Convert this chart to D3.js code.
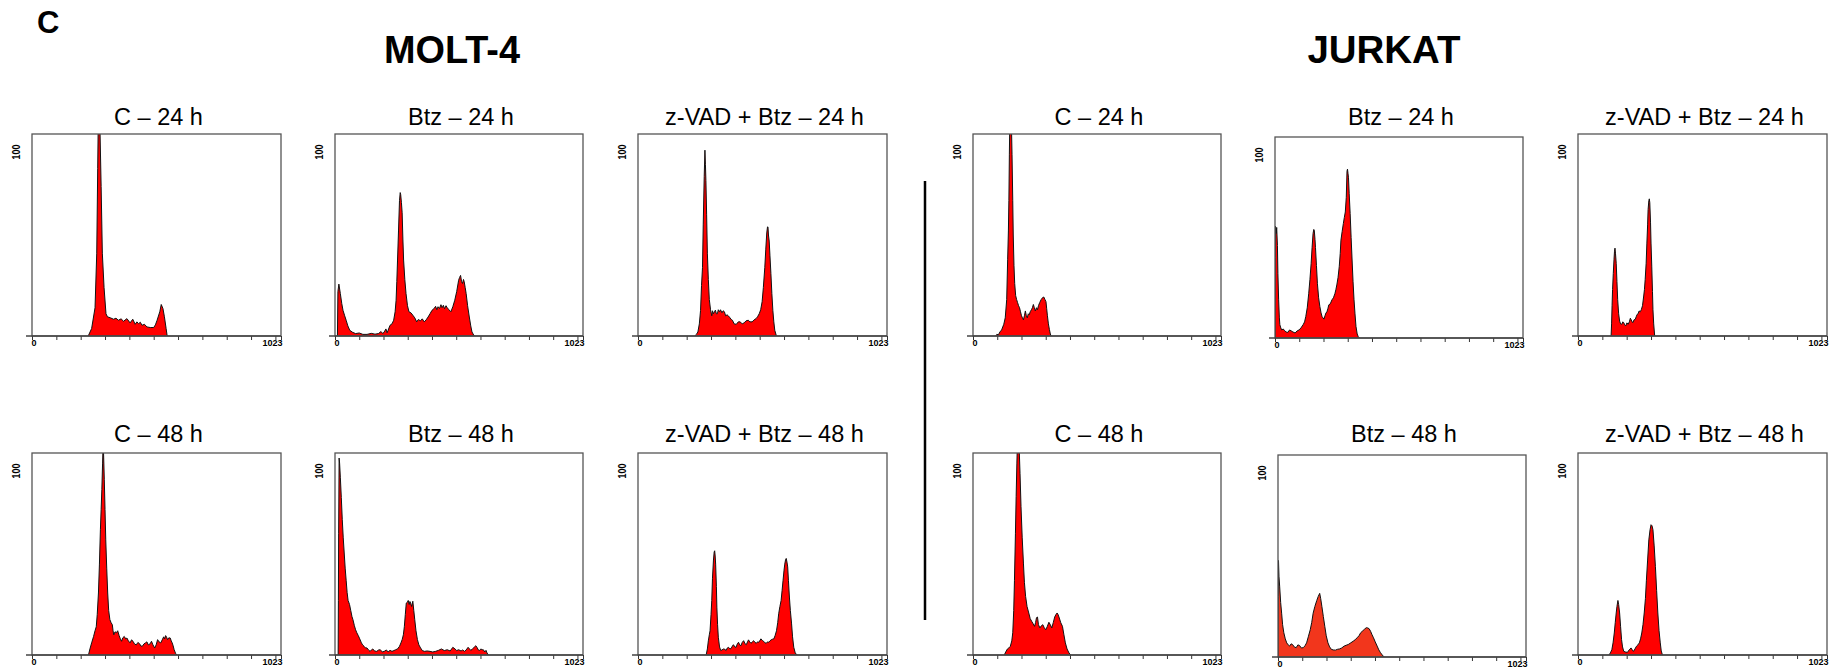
<!DOCTYPE html>
<html>
<head>
<meta charset="utf-8">
<script src="https://cdn.jsdelivr.net/npm/d3@7"></script>
<style>
  body { margin: 0; background: #fff; }
  svg { display: block; font-family: 'Liberation Sans', Arial, sans-serif; }
</style>
</head>
<body>
<svg id="chart"></svg>
<script>
const W = 1829
const H = 668

// histogram values: [DNA channel, cell count]
const moltC24 = [[231,0],[245,3.7],[259,14],[266,41],[270,83],[272,104],[276,112],[279,104],[284,74],[289,41],[296,24],[304,11],[310,9.5],[322,9],[335,8.3],[345,8.8],[355,7.8],[366,8.5],[376,7.3],[390,8.6],[403,6.5],[414,8.3],[424,5.8],[431,7],[438,6.1],[445,6.8],[452,5.3],[462,5.8],[472,4.5],[486,4.2],[500,4.2],[507,5.5],[514,7.8],[525,12],[531,15.6],[538,13.6],[544,9.5],[551,3.7],[555,0.3],[558,0]]
const moltBtz24 = [[10,0],[12,22],[16,25.7],[22,21],[28,16],[33,12.7],[40,10],[46,7.8],[53,5],[61,2.8],[73,1.8],[85,1.2],[100,1.5],[115,0.8],[132,0.8],[150,1.3],[165,0.9],[179,1.2],[190,2.2],[197,1.2],[203,2],[210,3.5],[215,1.6],[219,2.8],[227,5.3],[235,6],[242,7.8],[248,12],[252,17.7],[255,27],[258,37.6],[262,52],[266,67],[269,71],[271,70],[274,66],[277,61],[280,48],[283,37.6],[288,28],[293,21],[299,15],[305,12],[313,11.5],[321,10.3],[329,9],[337,7],[344,8.2],[352,7.5],[360,8.5],[368,7],[376,8],[384,9.4],[392,11],[400,12.7],[408,13.5],[415,14.7],[420,13],[425,14.5],[431,13.6],[437,15.5],[442,14],[447,15.2],[452,13.5],[458,15],[463,14],[470,13],[478,12],[486,14.5],[494,17.7],[502,22],[510,27.6],[514,29],[518,30],[522,27],[526,26],[530,28],[533,26.8],[537,24],[541,21],[547,15],[554,9.4],[560,5],[565,2],[572,0.5],[576,0]]
const moltZvad24 = [[233,0],[240,0.8],[246,2],[252,6],[257,12.7],[261,25],[265,34],[268,55],[272,79],[275,92],[277,85],[279,77],[282,60],[285,41],[289,28],[293,18],[298,13],[303,10],[306,12.5],[310,11],[314,12],[318,12.8],[322,11],[326,11],[330,13],[335,12],[339,13],[345,11.5],[350,12.5],[355,12],[360,10],[366,10.5],[371,10],[378,9],[383,8.2],[388,7.8],[395,6],[404,5.8],[412,7],[420,7],[428,6],[436,6.5],[444,7.5],[453,7.8],[460,7],[469,7],[477,8],[485,8.6],[491,9.5],[498,11],[504,13],[510,17],[515,24],[521,34],[525,43],[529,51],[532,54],[534,54],[536,50],[539,47],[542,40],[546,31],[550,21],[554,12.7],[558,7],[562,2.8],[568,0.3],[570,0]]
const jurC24 = [[94,0],[98,0.8],[105,0.6],[111,2],[118,3],[127,5.8],[133,9],[139,18],[143,38],[146,52],[148,67],[150,90],[152,108],[158,108],[161,90],[164,67],[166,50],[169,35],[172,26],[176,20],[180,18],[184,16.5],[188,15],[192,14],[196,12],[200,10],[204,9],[208,8],[212,10],[216,12.4],[220,10],[224,9],[228,11],[232,10.5],[236,12],[241,13],[245,14],[249,15.6],[253,14],[257,12.4],[262,14],[266,13],[270,15],[275,16.5],[281,18],[287,19],[292,19.3],[297,18],[301,17],[304,13.5],[307,10],[311,6],[315,3.3],[319,1],[322,0]]
const jurBtz24 = [[0,0],[1,40],[2,55.6],[5,52],[7,55],[10,46],[12,32],[15,19],[18,10],[20,6.6],[24,5],[28,4],[34,4.5],[40,3.6],[46,3],[53,2.8],[60,4],[66,3.6],[74,3],[83,2.5],[91,3.5],[99,4],[107,5],[116,6.6],[122,8],[127,10.7],[133,15],[139,22],[144,29],[149,37],[153,45],[157,52],[160,54],[162,53.6],[165,49],[167,45],[171,36],[175,27],[180,20],[185,15.7],[190,12.5],[194,10.7],[198,10],[202,9.4],[206,11],[210,12.4],[214,13],[218,14.5],[222,16.5],[228,17],[235,19],[241,20],[247,22],[251,24],[255,26.4],[260,30],[265,35.5],[269,42],[272,48.7],[277,53],[282,57],[286,60],[290,62.7],[294,70],[297,83],[299,84],[301,82],[303,80],[306,72],[310,62],[314,50],[318,38.8],[322,28],[326,19],[330,12],[334,5.8],[339,2],[343,0.8],[348,0]]
const jurZvad24 = [[136,0],[138,6],[140,15],[142,23],[145,31],[148,38],[150,42],[152,43.5],[154,41],[157,36],[160,27],[163,18],[167,11],[171,7.4],[175,6],[180,5.8],[184,7],[188,6.6],[192,5.5],[196,5],[201,6.5],[206,5.8],[211,7],[215,8.8],[218,8.2],[222,7],[226,6.6],[230,8],[235,8.2],[239,9.5],[243,10.7],[247,11],[251,12.4],[256,12],[260,13],[265,15],[270,19.8],[273,23],[276,28],[280,36],[283,46],[286,55],[288,62.6],[291,67],[293,67.9],[295,66],[298,56],[300,46],[303,34.6],[306,22],[308,13],[311,6],[315,0]]
const moltC48 = [[232,0],[238,3],[245,6],[253,9.2],[259,12],[264,14],[268,20],[273,30.7],[277,45],[281,62],[284,72],[287,82],[290,95],[292,104],[294,100],[297,87],[300,72],[303,57],[307,43],[311,30.7],[315,22],[320,17.5],[325,16],[330,15],[333,12],[336,10],[341,11.5],[347,11],[352,12],[358,9.6],[363,8],[368,6.8],[373,8.5],[379,9.2],[385,8],[390,8.4],[396,7],[403,6],[409,7.5],[415,6.8],[421,5.5],[428,5],[435,6.2],[442,5.6],[447,4.5],[453,4.3],[460,5.5],[466,6],[472,6.5],[478,5],[485,5.5],[491,6.8],[497,5],[504,3.5],[510,5],[516,7.6],[522,6.5],[529,6],[535,7.5],[541,9],[545,8],[549,9.6],[553,8.8],[557,7.6],[562,8.5],[568,8.4],[572,7],[576,6],[580,4.5],[584,2.6],[590,0.8],[595,0]]
const moltBtz48 = [[13,0],[14,27],[15,60],[17,97.5],[19,95],[22,88],[26,78],[30,67],[34,58],[38,50.5],[42,43],[46,37],[50,31],[54,27],[60,25],[65,22],[70,19],[74,17.5],[80,14.5],[85,12.5],[90,11],[96,9.6],[102,8],[109,6],[114,5],[120,4.3],[126,3.5],[132,3.5],[138,2.5],[145,1.8],[150,2.5],[156,3],[163,2],[172,1.8],[180,2.5],[187,2.6],[195,1.5],[203,1.8],[212,2.5],[219,1.5],[227,2.3],[235,1.8],[243,2.2],[250,2.6],[258,3],[266,4.3],[272,6],[277,7.6],[282,10],[286,14],[290,20],[294,25.7],[298,26],[302,27],[306,25],[309,26.5],[312,25.7],[316,24],[321,26.6],[325,22],[329,17.5],[334,12],[340,7.6],[346,5],[353,3.5],[360,2.2],[369,1.8],[380,2],[392,1.8],[403,1.5],[415,1.8],[427,2.3],[439,3],[451,2.2],[463,2.6],[475,2],[486,3.8],[495,3],[502,2.2],[510,2.6],[520,2],[527,2.5],[534,1.8],[541,2.5],[549,3.8],[555,3],[560,2.3],[567,3],[574,3.8],[581,4.6],[587,3.5],[591,2.5],[596,2.3],[602,3],[607,2.6],[612,2.6],[618,1.5],[623,2.3],[627,1],[633,0]]
const moltZvad48 = [[280,0],[285,3],[289,7],[293,10],[296,12],[300,20],[303,27],[306,38],[310,47],[313,51],[315,51.6],[317,49],[319,45],[322,34],[324,23.7],[327,15],[330,8.8],[335,4],[340,2.2],[345,2.5],[351,3],[357,2.8],[362,2.2],[367,3.5],[372,3.8],[378,3],[383,3.3],[388,4.5],[392,5.1],[398,4],[403,3.8],[408,5.5],[413,6.3],[418,5],[423,4.6],[428,6.2],[434,7.1],[440,5.5],[445,5.1],[450,6.5],[454,7.5],[459,6.5],[464,5.8],[470,6.5],[475,7.1],[480,6.3],[486,5.8],[491,6.5],[496,6.3],[500,7],[505,8],[511,7.2],[516,6.8],[522,6],[527,5.8],[532,6.5],[537,6.3],[542,7],[547,7.5],[552,7.8],[558,8],[563,9.5],[569,12],[574,16],[578,20.4],[583,24],[588,27],[592,32],[596,37],[600,42],[603,45],[606,47],[609,47.8],[612,46],[615,43.6],[618,37],[622,28.7],[626,22],[631,15.4],[635,9],[640,3.8],[646,1],[654,0]]
const jurC48 = [[129,0],[135,1.5],[142,3],[148,3.5],[154,4.3],[160,7],[164,11],[168,22],[171,37],[175,60],[178,78.5],[181,95],[183,104],[190,104],[194,90],[198,73.6],[203,58],[208,45.5],[212,36],[217,29],[223,24],[230,20.8],[236,18],[242,16.7],[248,15.5],[254,14.2],[258,16],[262,18.5],[266,18.8],[270,15],[276,13.4],[282,14.5],[288,15],[294,13.5],[300,12.5],[306,14],[313,16.2],[319,15],[325,13.4],[331,16],[337,18.8],[342,20],[347,20.8],[351,20],[356,18.3],[362,16],[369,14.2],[375,10],[381,6],[388,3],[396,1],[403,0]]
const jurBtz48 = [[0,0],[1,30],[2,47.8],[4,40],[7,34.7],[11,27],[15,21.7],[19,16],[24,12],[30,9],[36,7],[42,6],[48,5.4],[54,6.5],[60,6.2],[67,5],[75,4.6],[82,6],[89,5.7],[96,4.5],[104,4.6],[111,5.5],[118,7],[125,10],[133,13.5],[139,17],[145,21.7],[152,25],[160,28],[166,30],[172,31.5],[176,29],[181,25],[187,20],[193,15.2],[199,10.5],[206,7],[213,5],[220,3.8],[228,3.5],[237,3.4],[245,3.8],[254,4],[263,4.5],[273,5.4],[281,5.8],[290,6.2],[300,7],[310,7.8],[318,8.5],[326,9.5],[334,10.5],[341,12],[350,13],[358,13.9],[364,14.5],[370,14.4],[376,14],[382,12.7],[388,11],[394,9.5],[401,7.5],[409,5.4],[416,3.5],[423,2.1],[430,1],[438,0]]
const jurZvad48 = [[127,0],[133,1],[139,2.6],[144,6],[149,10.9],[153,16],[157,20.8],[160,24],[164,27],[167,25],[171,20.8],[175,14],[179,7.6],[183,4],[188,1.8],[195,1.5],[203,1.3],[210,2.5],[218,3.5],[223,2.5],[228,1.8],[234,3],[240,4.3],[246,5],[252,6],[257,8],[262,10.9],[267,15],[272,20.8],[277,28],[281,37],[286,47],[291,57],[296,62],[300,64.5],[304,64],[308,62],[313,54],[318,43.9],[323,32],[328,20.8],[333,12],[338,6],[342,2],[347,0]]

const titles24 = ['C – 24 h', 'Btz – 24 h', 'z-VAD + Btz – 24 h']
const titles48 = ['C – 48 h', 'Btz – 48 h', 'z-VAD + Btz – 48 h']
const cellLines = ['MOLT-4', 'JURKAT']
const xTicks = [0, 100, 200, 300, 400, 500, 600, 700, 800, 900, 1000, 1023]
const xLabels = [0, 1023]
const yLabel = 100

// panel boxes
const cols = [[32, 281], [335, 583], [638, 887], [973, 1221], [1275, 1523], [1578, 1827]]
const titleY = [125, 442]
const panels = [
  { t: titles24[0], d: moltC24, c: 0, r: 0, y0: 134, y1: 336 },
  { t: titles24[1], d: moltBtz24, c: 1, r: 0, y0: 134, y1: 336 },
  { t: titles24[2], d: moltZvad24, c: 2, r: 0, y0: 134, y1: 336 },
  { t: titles24[0], d: jurC24, c: 3, r: 0, y0: 134, y1: 336 },
  { t: titles24[1], d: jurBtz24, c: 4, r: 0, y0: 137, y1: 338 },
  { t: titles24[2], d: jurZvad24, c: 5, r: 0, y0: 134, y1: 336 },
  { t: titles48[0], d: moltC48, c: 0, r: 1, y0: 453, y1: 655 },
  { t: titles48[1], d: moltBtz48, c: 1, r: 1, y0: 453, y1: 655 },
  { t: titles48[2], d: moltZvad48, c: 2, r: 1, y0: 453, y1: 655 },
  { t: titles48[0], d: jurC48, c: 3, r: 1, y0: 453, y1: 655 },
  { t: titles48[1], d: jurBtz48, c: 4, r: 1, y0: 455, y1: 657, dx: 3, fill: '#f2361c' },
  { t: titles48[2], d: jurZvad48, c: 5, r: 1, y0: 453, y1: 655 }
]

const svg = d3.select('#chart').attr('width', W).attr('height', H)
svg.append('rect').attr('width', W).attr('height', H).attr('fill', '#fff')

svg.append('text')
  .attr('x', 37).attr('y', 33)
  .attr('font-size', 31).attr('font-weight', 'bold')
  .text('C')

svg.selectAll('.line-name')
  .data(cellLines)
  .enter()
  .append('text')
  .attr('class', 'line-name')
  .attr('x', (d, i) => [452, 1384][i])
  .attr('y', 63)
  .attr('text-anchor', 'middle')
  .attr('font-size', 39).attr('font-weight', 'bold')
  .attr('textLength', (d, i) => [136, 153][i])
  .attr('lengthAdjust', 'spacingAndGlyphs')
  .text(d => d)

svg.append('line')
  .attr('x1', 925).attr('x2', 925)
  .attr('y1', 181).attr('y2', 620)
  .attr('stroke', '#000').attr('stroke-width', 2.5)

panels.forEach((p, i) => {
  const dx = p.dx || 0
  const x0 = cols[p.c][0] + dx
  const x1 = cols[p.c][1] + dx
  const x = d3.scaleLinear().domain([0, 1023]).range([x0, x1])
  const y = d3.scaleLinear().domain([0, 100]).range([p.y1, p.y0])
  const g = svg.append('g')

  g.append('clipPath').attr('id', 'clip' + i)
    .append('rect')
    .attr('x', x0).attr('y', p.y0)
    .attr('width', x1 - x0).attr('height', p.y1 - p.y0)

  g.append('text')
    .attr('x', (x0 + x1) / 2 + 2)
    .attr('y', titleY[p.r])
    .attr('text-anchor', 'middle')
    .attr('font-size', 23.5)
    .text(p.t)

  const area = d3.area()
    .x(d => x(d[0]))
    .y0(y(0))
    .y1(d => y(d[1]))
  const line = d3.line()
    .x(d => x(d[0]))
    .y(d => y(d[1]))

  const hist = g.append('g').attr('clip-path', `url(#clip${i})`)
  hist.append('path')
    .datum(p.d)
    .attr('d', area)
    .attr('fill', p.fill || '#ff0000')
  hist.append('path')
    .datum(p.d)
    .attr('d', line)
    .attr('fill', 'none')
    .attr('stroke', '#111')
    .attr('stroke-width', 1)

  g.append('rect')
    .attr('x', x0).attr('y', p.y0)
    .attr('width', x1 - x0).attr('height', p.y1 - p.y0)
    .attr('fill', 'none')
    .attr('stroke', '#555').attr('stroke-width', 1.3)

  const axis = d3.axisBottom(x)
    .tickValues(xTicks)
    .tickSize(4)
    .tickSizeOuter(0)
    .tickFormat(d => xLabels.includes(d) ? d : '')

  const ax = g.append('g')
    .attr('transform', `translate(0, ${p.y1})`)
    .call(axis)
  ax.select('.domain').remove()
  ax.selectAll('.tick line').attr('stroke', '#333')
  ax.selectAll('.tick text')
    .attr('y', 3.5)
    .attr('font-size', 9)
    .attr('font-weight', 'bold')
    .attr('font-family', "'Liberation Sans', Arial, sans-serif")
    .attr('fill', '#000')
    .attr('text-anchor', d => d === 0 ? 'start' : 'end')
    .attr('dx', d => d === 0 ? -1 : 1)

  g.append('line')
    .attr('x1', x0 - 6).attr('x2', x1)
    .attr('y1', p.y1).attr('y2', p.y1)
    .attr('stroke', '#444').attr('stroke-width', 1.4)

  g.append('text')
    .attr('transform', `translate(${x0 - 12}, ${p.y0 + 18}) rotate(-90)`)
    .attr('text-anchor', 'middle')
    .attr('font-size', 10)
    .attr('font-weight', 'bold')
    .attr('textLength', 15)
    .attr('lengthAdjust', 'spacingAndGlyphs')
    .text(yLabel)
})
</script>
</body>
</html>
